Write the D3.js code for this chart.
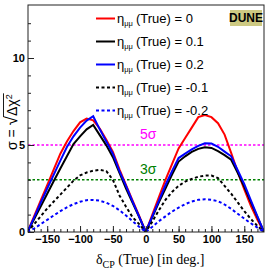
<!DOCTYPE html>
<html>
<head>
<meta charset="utf-8">
<script src="https://cdn.jsdelivr.net/npm/d3@7"></script>
<style>
  body { margin: 0; background: #fff; }
  svg { display: block; }
  .tick text { font-family: "Liberation Sans Narrow", "Arial Narrow", sans-serif; font-weight: bold; font-size: 11px; fill: #000; }
</style>
</head>
<body>
<div id="chart"></div>
<script>
// delta_CP (True) grid in degrees
const deltaCP = [-180, -170, -160, -150, -140, -130, -120, -110, -100, -90, -80, -70, -60, -50, -40, -30, -20, -10,
  0, 10, 20, 30, 40, 50, 60, 70, 80, 90, 100, 110, 120, 130, 140, 150, 160, 170, 180];

// sigma = sqrt(delta chi^2) for each eta_mumu (True)
const etaZero = [0, 0.9, 1.8, 2.7, 3.6, 4.5, 5.2, 5.8, 6.3, 6.52, 6.42, 5.95, 5.3, 4.6, 3.6, 2.7, 1.8, 0.92,
  0, 1.0, 2.0, 3.0, 3.9, 4.8, 5.4, 6.0, 6.6, 6.72, 6.6, 6.25, 5.6, 4.55, 3.45, 2.45, 1.5, 0.7, 0];
const etaPos01 = [0, 0.73, 1.46, 2.2, 2.93, 3.65, 4.35, 5.05, 5.5, 5.9, 6.15, 5.57, 4.98, 4.3, 3.4, 2.5, 1.68, 0.85,
  0, 0.85, 1.7, 2.5, 3.3, 4.05, 4.35, 4.6, 4.78, 4.87, 4.83, 4.65, 4.42, 4.15, 3.4, 2.6, 1.72, 0.86, 0];
const etaPos02 = [0, 0.83, 1.67, 2.5, 3.3, 4.1, 4.88, 5.5, 6.0, 6.4, 6.65, 5.9, 5.2, 4.5, 3.5, 2.65, 1.75, 0.88,
  0, 0.9, 1.8, 2.7, 3.5, 4.25, 4.5, 4.75, 4.95, 5.1, 5.08, 4.9, 4.62, 4.35, 3.55, 2.75, 1.82, 0.9, 0];
const etaNeg01 = [0, 0.45, 0.9, 1.35, 1.75, 2.15, 2.55, 2.95, 3.25, 3.42, 3.52, 3.57, 3.5, 3.0, 2.1, 1.45, 0.85, 0.45,
  0, 0.6, 1.25, 1.85, 2.3, 2.65, 2.9, 3.05, 3.18, 3.24, 3.25, 3.1, 2.65, 2.2, 1.7, 1.2, 0.75, 0.35, 0];
const etaNeg02 = [0, 0.2, 0.45, 0.7, 0.95, 1.2, 1.42, 1.6, 1.74, 1.83, 1.84, 1.8, 1.68, 1.5, 1.25, 0.95, 0.62, 0.3,
  0, 0.3, 0.62, 0.9, 1.17, 1.4, 1.6, 1.75, 1.85, 1.88, 1.85, 1.77, 1.58, 1.33, 1.05, 0.77, 0.5, 0.25, 0];

const legendLabels = ["0", "0.1", "0.2", "-0.1", "-0.2"];
const xTickValues = [-150, -100, -50, 0, 50, 100, 150];
const yTickValues = [0, 5, 10];
const sigmaLevels = [5, 3];

const series = [
  { values: etaZero, color: "#ff0000", dashed: false },
  { values: etaPos01, color: "#000000", dashed: false },
  { values: etaPos02, color: "#0000ff", dashed: false },
  { values: etaNeg01, color: "#000000", dashed: true },
  { values: etaNeg02, color: "#0000ff", dashed: true }
];
const levelColors = { 5: "#ff00ff", 3: "#008000" };

const width = 266, height = 273;
const frame = { left: 28, right: 264, top: 5, bottom: 232 };

const svg = d3.select("#chart").append("svg")
  .attr("width", width)
  .attr("height", height);

const x = d3.scaleLinear().domain([-180, 180]).range([frame.left - 0.5, frame.right]);
const y = d3.scaleLinear().domain([0, 13]).range([frame.bottom, frame.bottom - 13 * 17.4]);

svg.append("defs").append("clipPath").attr("id", "plot")
  .append("rect")
  .attr("x", frame.left).attr("y", frame.top)
  .attr("width", frame.right - frame.left).attr("height", frame.bottom - frame.top);

// significance levels
const levels = svg.append("g");
sigmaLevels.forEach(s => {
  levels.append("line")
    .attr("x1", frame.left).attr("x2", frame.right)
    .attr("y1", y(s)).attr("y2", y(s))
    .attr("stroke", levelColors[s])
    .attr("stroke-width", 1.6)
    .attr("stroke-dasharray", "2.5,2");
  levels.append("text")
    .attr("x", 140)
    .attr("y", y(s) - 6)
    .attr("fill", levelColors[s])
    .style("font-family", "Liberation Sans Narrow, Arial Narrow, sans-serif")
    .style("font-size", "14px")
    .text(s + "\u03c3");
});

// curves
const line = d3.line()
  .x((d, i) => x(deltaCP[i]))
  .y(d => y(d));

const curves = svg.append("g").attr("clip-path", "url(#plot)");
series.forEach(s => {
  curves.append("path")
    .datum(s.values)
    .attr("d", line)
    .attr("fill", "none")
    .attr("stroke", s.color)
    .attr("stroke-width", 2)
    .attr("stroke-dasharray", s.dashed ? "3,2.5" : null);
});

// axes (ROOT style, ticks pointing inward)
const xMinor = svg.append("g")
  .attr("transform", `translate(0,${frame.bottom})`)
  .call(d3.axisBottom(x).tickValues(d3.range(-170, 180, 10)).tickSize(-3).tickFormat(""));
const xAxis = svg.append("g")
  .attr("transform", `translate(0,${frame.bottom})`)
  .call(d3.axisBottom(x).tickValues(xTickValues).tickSize(-6).tickPadding(3));
const yMinor = svg.append("g")
  .attr("transform", `translate(${frame.left},0)`)
  .call(d3.axisLeft(y).tickValues(d3.range(1, 13, 1)).tickSize(-3).tickFormat(""));
const yAxis = svg.append("g")
  .attr("transform", `translate(${frame.left},0)`)
  .call(d3.axisLeft(y).tickValues(yTickValues).tickSize(-6).tickPadding(3));

[xMinor, xAxis, yMinor, yAxis].forEach(g => {
  g.select(".domain").remove();
  g.selectAll(".tick line").attr("stroke", "#222");
});

svg.append("rect")
  .attr("x", frame.left).attr("y", frame.top)
  .attr("width", frame.right - frame.left).attr("height", frame.bottom - frame.top)
  .attr("fill", "none")
  .attr("stroke", "#222")
  .attr("stroke-width", 1);

// axis titles
const xTitle = svg.append("text")
  .attr("x", 96)
  .attr("y", 264)
  .style("font-family", "Liberation Serif, Times New Roman, serif")
  .style("font-size", "14px")
  .attr("fill", "#000");
xTitle.append("tspan").text("\u03b4");
xTitle.append("tspan").attr("dy", 4).style("font-size", "10px").text("CP");
xTitle.append("tspan").attr("dy", -4).text(" (True) [in deg.]");

const yTitle = svg.append("g").attr("transform", "translate(17,150) rotate(-90)");
const yText = yTitle.append("text")
  .attr("x", 0).attr("y", 0)
  .style("font-family", "Liberation Sans Narrow, Arial Narrow, sans-serif")
  .style("font-size", "14px")
  .attr("fill", "#000");
yText.append("tspan").text("\u03c3 = ");
yText.append("tspan").style("font-size", "17px").text("\u221a");
yText.append("tspan").text("\u0394\u03c7");
yText.append("tspan").attr("dy", -5).style("font-size", "9px").text("2");
const start = yText.node().getSubStringLength(0, 5);
const total = yText.node().getComputedTextLength();
yTitle.append("line")
  .attr("x1", start - 1).attr("x2", total + 1)
  .attr("y1", -13.5).attr("y2", -13.5)
  .attr("stroke", "#000").attr("stroke-width", 0.9);

// legend
const legend = svg.append("g");
series.forEach((s, i) => {
  const ly = 18.5 + i * 23;
  legend.append("line")
    .attr("x1", 96).attr("x2", 115)
    .attr("y1", ly).attr("y2", ly)
    .attr("stroke", s.color)
    .attr("stroke-width", 2)
    .attr("stroke-dasharray", s.dashed ? "3,2.5" : null);
  const t = legend.append("text")
    .attr("x", 117)
    .attr("y", ly + 4)
    .style("font-family", "Liberation Sans Narrow, Arial Narrow, sans-serif")
    .style("font-size", "13px")
    .attr("fill", "#000");
  t.append("tspan").style("font-size", "13px").text("\u03b7");
  t.append("tspan").attr("dy", 3).style("font-size", "7.5px").text("\u03bc\u03bc");
  t.append("tspan").attr("dy", -3).attr("x", 136).text("(True) = " + legendLabels[i]);
});

// experiment tag
const tag = svg.append("g");
tag.append("rect")
  .attr("x", 230).attr("y", 10)
  .attr("width", 32).attr("height", 16)
  .attr("fill", "#cdc982");
tag.append("text")
  .attr("x", 246).attr("y", 22)
  .attr("text-anchor", "middle")
  .style("font-family", "Liberation Sans Narrow, Arial Narrow, sans-serif")
  .style("font-weight", "bold")
  .style("font-size", "12px")
  .attr("fill", "#000")
  .text("DUNE");
</script>
</body>
</html>
